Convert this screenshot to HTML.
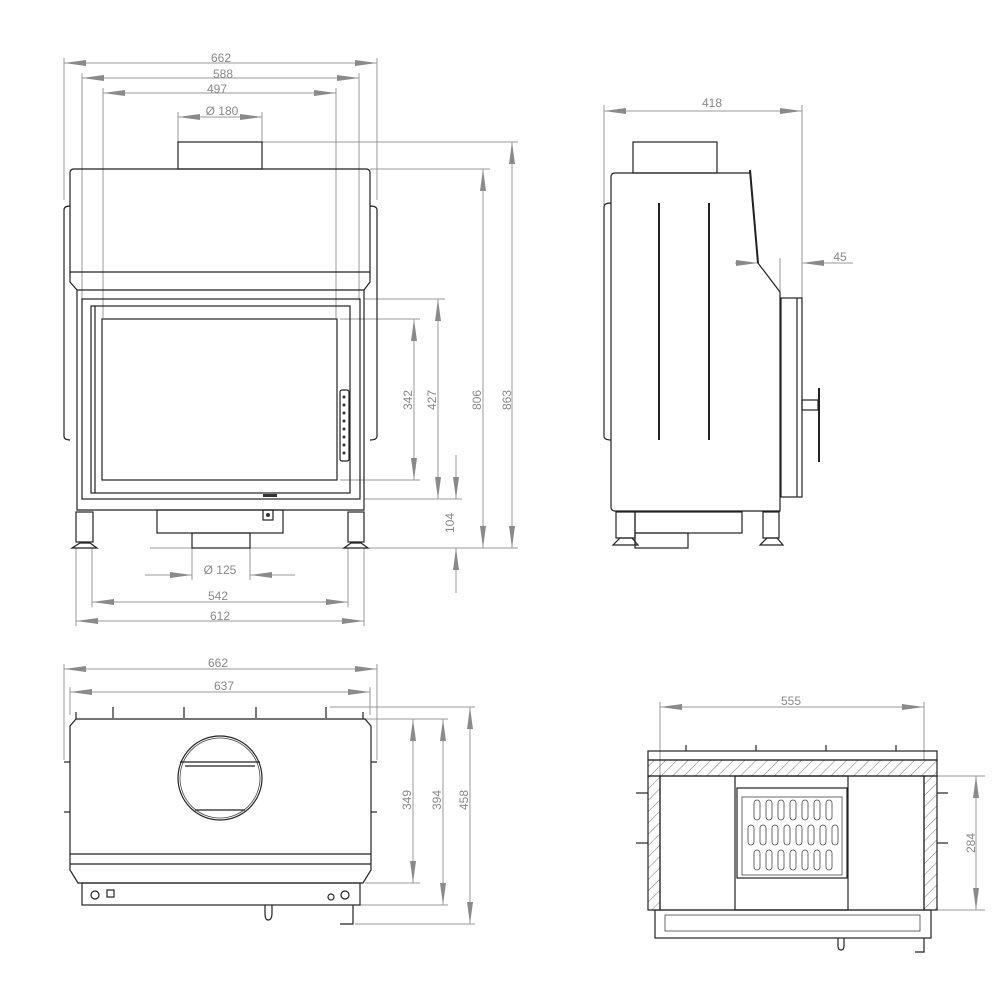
<!DOCTYPE html>
<html><head><meta charset="utf-8"><style>
html,body{margin:0;padding:0;background:#fff}
svg{display:block}
.d{stroke:#999;stroke-width:1;fill:none}
.t{font-family:"Liberation Sans",sans-serif;font-size:12px;fill:#888}
.k{stroke:#222;stroke-width:1.2;fill:none}
.k2{stroke:#444;stroke-width:0.8;fill:none}
</style></head><body>
<svg width="1000" height="1000" viewBox="0 0 1000 1000" xmlns="http://www.w3.org/2000/svg">
<defs>
<marker id="a" viewBox="0 0 22 6" refX="22" refY="3" markerWidth="22" markerHeight="6" markerUnits="userSpaceOnUse" orient="auto-start-reverse">
<path d="M0,0 L22,3 L0,6 Z" fill="#8a8a8a"/></marker>
<pattern id="h" width="8" height="8" patternUnits="userSpaceOnUse" patternTransform="rotate(45)">
<line x1="0" y1="0" x2="0" y2="8" stroke="#555" stroke-width="0.8"/></pattern>
</defs>

<!-- ============ FRONT VIEW ============ -->
<g class="d">
<line x1="64" y1="63" x2="377" y2="63" marker-start="url(#a)" marker-end="url(#a)"/>
<line x1="82" y1="78" x2="359" y2="78" marker-start="url(#a)" marker-end="url(#a)"/>
<line x1="103" y1="93" x2="336" y2="93" marker-start="url(#a)" marker-end="url(#a)"/>
<line x1="178" y1="117" x2="262" y2="117" marker-start="url(#a)" marker-end="url(#a)"/>
<line x1="64" y1="58" x2="64" y2="200"/><line x1="377" y1="58" x2="377" y2="200"/>
<line x1="82" y1="73" x2="82" y2="300"/><line x1="359" y1="73" x2="359" y2="300"/>
<line x1="103" y1="88" x2="103" y2="318"/><line x1="336" y1="88" x2="336" y2="318"/>
<line x1="178" y1="112" x2="178" y2="142"/><line x1="262" y1="112" x2="262" y2="142"/>
<line x1="262" y1="142" x2="518" y2="142"/>
<line x1="370" y1="169" x2="490" y2="169"/>
<line x1="364" y1="299" x2="445" y2="299"/>
<line x1="340" y1="319" x2="420" y2="319"/>
<line x1="340" y1="480" x2="420" y2="480"/>
<line x1="364" y1="499" x2="462" y2="499"/>
<line x1="150" y1="548" x2="518" y2="548"/>
<line x1="414" y1="319" x2="414" y2="480" marker-start="url(#a)" marker-end="url(#a)"/>
<line x1="438" y1="299" x2="438" y2="499" marker-start="url(#a)" marker-end="url(#a)"/>
<line x1="483" y1="169" x2="483" y2="548" marker-start="url(#a)" marker-end="url(#a)"/>
<line x1="512" y1="142" x2="512" y2="548" marker-start="url(#a)" marker-end="url(#a)"/>
<line x1="456" y1="455" x2="456" y2="499" marker-end="url(#a)"/>
<line x1="456" y1="548" x2="456" y2="593" marker-start="url(#a)"/>
<line x1="145" y1="575" x2="192" y2="575" marker-end="url(#a)"/>
<line x1="250" y1="575" x2="295" y2="575" marker-start="url(#a)"/>
<line x1="192" y1="548" x2="192" y2="580"/><line x1="250" y1="548" x2="250" y2="580"/>
<line x1="92" y1="548" x2="92" y2="607"/><line x1="348" y1="548" x2="348" y2="607"/>
<line x1="76" y1="548" x2="76" y2="626"/><line x1="364" y1="548" x2="364" y2="626"/>
<line x1="92" y1="602" x2="348" y2="602" marker-start="url(#a)" marker-end="url(#a)"/>
<line x1="76" y1="621" x2="364" y2="621" marker-start="url(#a)" marker-end="url(#a)"/>
</g>
<g class="t">
<text x="221" y="62" text-anchor="middle">662</text>
<text x="223" y="78" text-anchor="middle">588</text>
<text x="217" y="93" text-anchor="middle">497</text>
<text x="222" y="115" text-anchor="middle">Ø 180</text>
<text x="220" y="574" text-anchor="middle">Ø 125</text>
<text x="218" y="600" text-anchor="middle">542</text>
<text x="220" y="620" text-anchor="middle">612</text>
<text transform="translate(412,400) rotate(-90)" text-anchor="middle">342</text>
<text transform="translate(436,400) rotate(-90)" text-anchor="middle">427</text>
<text transform="translate(481,400) rotate(-90)" text-anchor="middle">806</text>
<text transform="translate(511,400) rotate(-90)" text-anchor="middle">863</text>
<text transform="translate(454,523) rotate(-90)" text-anchor="middle">104</text>
</g>
<g class="k">
<rect x="178" y="142" width="84" height="27"/>
<path d="M74,169 H366 Q370,169 370,173 V272 H70 V173 Q70,169 74,169 Z"/>
<path d="M70,206 Q64,206 64,210 V436 Q64,440 70,440"/>
<path d="M370,206 Q377,206 377,210 V436 Q377,440 370,440"/>
<path d="M70,272 V282 L77,290 V510 H364 V290 L370,282 V272"/>
<line x1="77" y1="290" x2="364" y2="290"/>
<rect x="82" y="299" width="278" height="200"/>
<rect x="91" y="306" width="259" height="187"/>
<rect x="102" y="319" width="235" height="161"/>
<line x1="95" y1="306" x2="95" y2="493"/>
<rect x="340" y="390" width="9" height="71" rx="2"/>
<rect x="76" y="512" width="17" height="30"/>
<rect x="348" y="512" width="16" height="30"/>
<path d="M72,548 L80,543 H90 L97,548 Z"/>
<path d="M344,548 L351,543 H361 L368,548 Z"/>
<rect x="157" y="510" width="126" height="23"/>
<rect x="192" y="533" width="58" height="15"/>
<rect x="263" y="510" width="10" height="10"/>
</g>
<g fill="#333"><circle cx="344" cy="397" r="1.5"/><circle cx="344" cy="405" r="1.5"/><circle cx="344" cy="413" r="1.5"/><circle cx="344" cy="421" r="1.5"/><circle cx="344" cy="429" r="1.5"/><circle cx="344" cy="437" r="1.5"/><circle cx="344" cy="445" r="1.5"/><circle cx="344" cy="453" r="1.5"/><rect x="263" y="494" width="14" height="3"/><circle cx="268" cy="515" r="2"/></g>

<!-- ============ SIDE VIEW ============ -->
<g class="d">
<line x1="604" y1="111" x2="802" y2="111" marker-start="url(#a)" marker-end="url(#a)"/>
<line x1="604" y1="105" x2="604" y2="205"/>
<line x1="802" y1="105" x2="802" y2="298"/>
<line x1="735" y1="263" x2="758" y2="263" marker-end="url(#a)"/>
<line x1="802" y1="263" x2="853" y2="263" marker-start="url(#a)"/>
<line x1="780" y1="258" x2="780" y2="292"/>
</g>
<text class="t" x="840" y="261" text-anchor="middle">45</text>
<text class="t" x="712" y="107" text-anchor="middle">418</text>
<g class="k">
<rect x="633" y="142" width="84" height="31"/>
<path d="M615,173 H750 L758,263 L780,292 V511 H615 Q611,511 611,507 V177 Q611,173 615,173 Z"/>
<path d="M750,170 L758,263" stroke-width="2"/>
<path d="M611,203 Q604,203 604,207 V436 Q604,440 611,440"/>
<line x1="659" y1="203" x2="659" y2="440" stroke-width="2"/>
<line x1="709" y1="203" x2="709" y2="440" stroke-width="2"/>
<rect x="781" y="298" width="21" height="199"/>
<line x1="797" y1="298" x2="797" y2="497"/>
<rect x="802" y="400" width="16" height="10"/>
<line x1="819" y1="388" x2="819" y2="462" stroke-width="2"/>
<rect x="616" y="512" width="19" height="26"/>
<rect x="763" y="512" width="16" height="26"/>
<path d="M613,545 L620,538 H632 L638,545 Z"/>
<path d="M760,545 L767,538 H777 L783,545 Z"/>
<rect x="635" y="512" width="107" height="21"/>
<rect x="635" y="533" width="53" height="15"/>
</g>

<!-- ============ TOP VIEW ============ -->
<g class="d">
<line x1="64" y1="669" x2="377" y2="669" marker-start="url(#a)" marker-end="url(#a)"/>
<line x1="70" y1="692" x2="370" y2="692" marker-start="url(#a)" marker-end="url(#a)"/>
<line x1="64" y1="664" x2="64" y2="760"/><line x1="377" y1="664" x2="377" y2="760"/>
<line x1="70" y1="687" x2="70" y2="715"/><line x1="370" y1="687" x2="370" y2="715"/>
<line x1="330" y1="707" x2="475" y2="707"/>
<line x1="365" y1="719" x2="448" y2="719"/>
<line x1="365" y1="883" x2="420" y2="883"/>
<line x1="360" y1="905" x2="448" y2="905"/>
<line x1="355" y1="924" x2="475" y2="924"/>
<line x1="413" y1="719" x2="413" y2="883" marker-start="url(#a)" marker-end="url(#a)"/>
<line x1="443" y1="719" x2="443" y2="905" marker-start="url(#a)" marker-end="url(#a)"/>
<line x1="470" y1="707" x2="470" y2="924" marker-start="url(#a)" marker-end="url(#a)"/>
</g>
<g class="t">
<text x="218" y="667" text-anchor="middle">662</text>
<text x="224" y="690" text-anchor="middle">637</text>
<text transform="translate(411,800) rotate(-90)" text-anchor="middle">349</text>
<text transform="translate(441,800) rotate(-90)" text-anchor="middle">394</text>
<text transform="translate(468,800) rotate(-90)" text-anchor="middle">458</text>
</g>
<g class="k">
<path d="M76,719 H365 L371,726 V870 L363,883 H78 L70,870 V726 Z"/>
<line x1="70" y1="854" x2="371" y2="854"/>
<line x1="70" y1="864" x2="371" y2="864"/>
<rect x="82" y="883" width="278" height="22"/>
<circle cx="220" cy="778" r="42"/>
<circle cx="220" cy="778" r="40" class="k2"/>
<line x1="180" y1="762" x2="260" y2="762"/>
<line x1="185" y1="766" x2="255" y2="766"/>
<line x1="195" y1="810" x2="245" y2="810"/>
<line x1="113" y1="707" x2="113" y2="718"/><line x1="184" y1="707" x2="184" y2="718"/>
<line x1="256" y1="707" x2="256" y2="718"/><line x1="326" y1="707" x2="326" y2="718"/>
<line x1="76" y1="712" x2="76" y2="719"/><line x1="363" y1="712" x2="363" y2="719"/>
<line x1="64" y1="762" x2="70" y2="762"/><line x1="64" y1="812" x2="70" y2="812"/>
<line x1="371" y1="762" x2="377" y2="762"/><line x1="371" y1="812" x2="377" y2="812"/>
<circle cx="95" cy="895" r="4"/><rect x="107" y="890" width="7" height="7"/>
<circle cx="345" cy="895" r="4"/><circle cx="331" cy="897" r="3"/>
<path d="M265,905 V913 Q265,920 268,920 Q272,920 272,913 V905"/>
<path d="M353,905 V924 H340"/>
</g>

<!-- ============ SECTION VIEW ============ -->
<g class="d">
<line x1="660" y1="707" x2="924" y2="707" marker-start="url(#a)" marker-end="url(#a)"/>
<line x1="660" y1="702" x2="660" y2="776"/><line x1="924" y1="702" x2="924" y2="760"/>
<line x1="937" y1="776" x2="985" y2="776"/>
<line x1="937" y1="910" x2="985" y2="910"/>
<line x1="976" y1="776" x2="976" y2="910" marker-start="url(#a)" marker-end="url(#a)"/>
</g>
<text class="t" x="791" y="705" text-anchor="middle">555</text>
<text class="t" transform="translate(975,843) rotate(-90)" text-anchor="middle">284</text>
<g class="k">
<rect x="648" y="751" width="289" height="9"/>
<rect x="648" y="760" width="289" height="16" fill="url(#h)"/>
<rect x="648" y="776" width="12" height="134" fill="url(#h)"/>
<rect x="924" y="776" width="13" height="134" fill="url(#h)"/>
<rect x="660" y="776" width="264" height="134"/>
<rect x="735" y="776" width="113" height="134"/>
<rect x="737" y="788" width="110" height="90"/>
<rect x="742" y="797" width="100" height="78" class="k2"/>
<rect x="655" y="910" width="276" height="28"/>
<rect x="665" y="915" width="255" height="16" class="k2"/>
<line x1="686" y1="745" x2="686" y2="751"/><line x1="756" y1="745" x2="756" y2="751"/>
<line x1="826" y1="745" x2="826" y2="751"/><line x1="896" y1="745" x2="896" y2="751"/>
<line x1="636" y1="793" x2="648" y2="793"/><line x1="636" y1="843" x2="648" y2="843"/>
<line x1="937" y1="793" x2="948" y2="793"/><line x1="937" y1="843" x2="948" y2="843"/>
<path d="M924,938 V952 H915"/>
<path d="M838,938 V946 Q838,950 841,950 Q844,950 844,946 V938"/>
</g>
<g class="k2" stroke-width="1.5">
<rect x="754" y="800" width="6" height="20" rx="3"/><rect x="766" y="800" width="6" height="20" rx="3"/>
<rect x="778" y="800" width="6" height="20" rx="3"/><rect x="790" y="800" width="6" height="20" rx="3"/>
<rect x="802" y="800" width="6" height="20" rx="3"/><rect x="814" y="800" width="6" height="20" rx="3"/>
<rect x="826" y="800" width="6" height="20" rx="3"/>
<rect x="748" y="825" width="6" height="20" rx="3"/><rect x="760" y="825" width="6" height="20" rx="3"/>
<rect x="772" y="825" width="6" height="20" rx="3"/><rect x="784" y="825" width="6" height="20" rx="3"/>
<rect x="796" y="825" width="6" height="20" rx="3"/><rect x="808" y="825" width="6" height="20" rx="3"/>
<rect x="820" y="825" width="6" height="20" rx="3"/><rect x="832" y="825" width="6" height="20" rx="3"/>
<rect x="754" y="850" width="6" height="20" rx="3"/><rect x="766" y="850" width="6" height="20" rx="3"/>
<rect x="778" y="850" width="6" height="20" rx="3"/><rect x="790" y="850" width="6" height="20" rx="3"/>
<rect x="802" y="850" width="6" height="20" rx="3"/><rect x="814" y="850" width="6" height="20" rx="3"/>
<rect x="826" y="850" width="6" height="20" rx="3"/>
</g>
</svg>
</body></html>
